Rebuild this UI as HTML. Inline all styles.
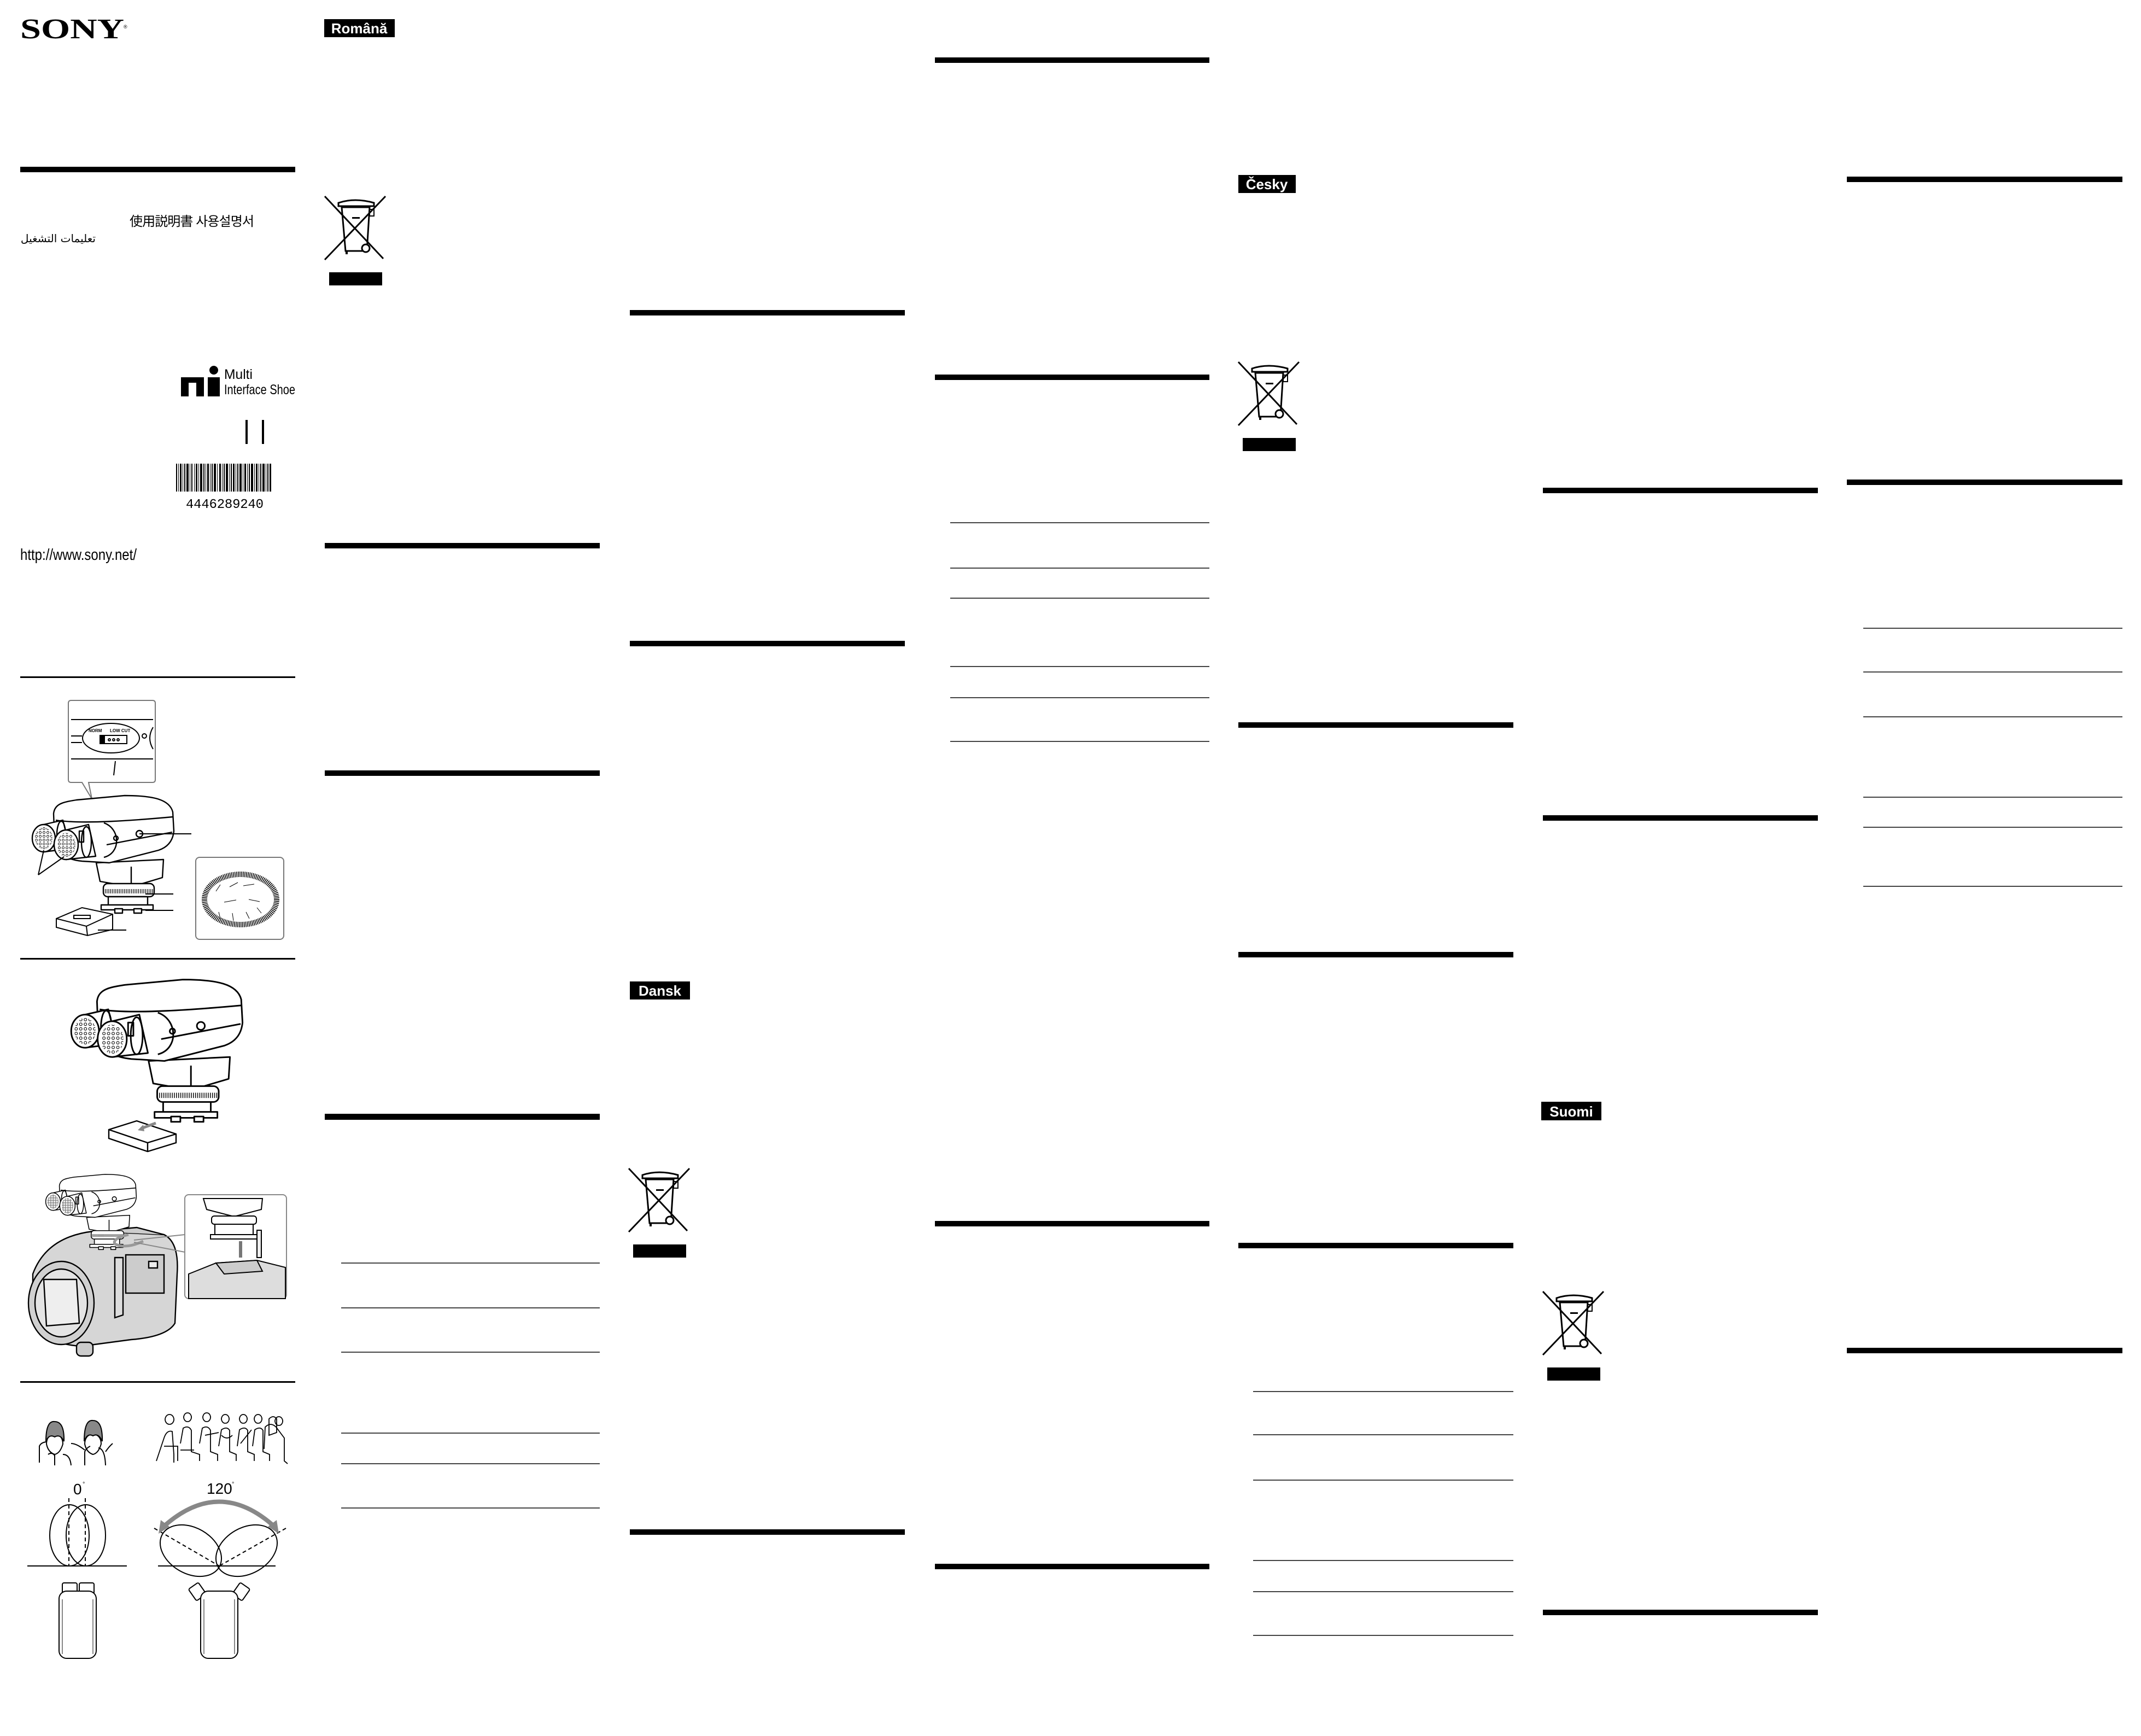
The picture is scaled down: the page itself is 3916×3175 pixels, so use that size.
<!DOCTYPE html>
<html><head><meta charset="utf-8"><style>
html,body{margin:0;padding:0;background:#fff}
body{width:3916px;height:3175px;position:relative;overflow:hidden}
svg{position:absolute;left:0;top:0}
.t{font-family:"Liberation Sans",sans-serif}
</style></head><body>
<svg width="3916" height="3175" viewBox="0 0 3916 3175" xmlns="http://www.w3.org/2000/svg">
<defs>
<pattern id="holes" width="7" height="7" patternUnits="userSpaceOnUse"><circle cx="3.5" cy="3.5" r="2" fill="none" stroke="#000" stroke-width="0.9"/></pattern>
<g id="bin">
 <line x1="0" y1="0" x2="107" y2="114" stroke="#000" stroke-width="3"/>
 <line x1="111" y1="0" x2="0" y2="116" stroke="#000" stroke-width="3"/>
 <path d="M25,12 Q55,2 90,12 L90,18 L25,18 Z" fill="none" stroke="#000" stroke-width="3"/>
 <polygon points="31,20 82,20 77,100 38,100" fill="none" stroke="#000" stroke-width="3"/>
 <rect x="38" y="100" width="4" height="6" fill="#000"/>
 <rect x="82" y="24" width="8" height="12" fill="none" stroke="#000" stroke-width="2"/>
 <rect x="50" y="38" width="14" height="3" fill="#000"/>
 <circle cx="75" cy="95" r="7" fill="#fff" stroke="#000" stroke-width="3"/>
 <rect x="8" y="139" width="97" height="24" fill="#000"/>
</g>
<g id="mic" stroke="#000" stroke-width="2.4" fill="#fff" stroke-linejoin="round">
 <path d="M176,1578 L299,1572 L297,1605 L240,1622 L183,1612 Z"/>
 <line x1="240" y1="1585" x2="240" y2="1620"/>
 <rect x="189" y="1616" width="93" height="24" rx="8"/>
 <line x1="192" y1="1630" x2="280" y2="1630" stroke-width="8" stroke-dasharray="1.2 2"/>
 <rect x="198" y="1640" width="72" height="18"/>
 <rect x="185" y="1655" width="95" height="9"/>
 <rect x="210" y="1662" width="14" height="8"/><rect x="245" y="1662" width="14" height="8"/>
 <path d="M98,1488 C100,1470 115,1467 140,1463 L228,1455 C280,1455 310,1462 316,1485 L318,1520 C316,1540 305,1550 290,1555 L200,1578 L150,1575 C120,1572 105,1560 100,1540 Z"/>
 <path d="M102,1500 C150,1508 250,1500 316,1494" fill="none"/>
 <path d="M195,1545 L315,1522" fill="none"/>
 <circle cx="255" cy="1525" r="6"/><circle cx="212" cy="1533" r="4"/>
 <path d="M190,1505 C220,1515 222,1560 190,1568" fill="none"/>
 <path d="M80,1508 L115,1500 L128,1552 L80,1558 Z"/>
 <ellipse cx="112" cy="1527" rx="8" ry="25" fill="none"/>
 <ellipse cx="80" cy="1533" rx="21" ry="25"/>
 <ellipse cx="80" cy="1533" rx="16" ry="20" fill="url(#holes)" stroke="none"/>
 <path d="M121,1518 L162,1508 L175,1566 L121,1572 Z"/>
 <ellipse cx="158" cy="1540" rx="9" ry="28" fill="none"/>
 <rect x="145" y="1520" width="8" height="20" fill="none"/>
 <ellipse cx="121" cy="1545" rx="22" ry="27"/>
 <ellipse cx="121" cy="1545" rx="17" ry="22" fill="url(#holes)" stroke="none"/>
</g>
</defs>

<!-- column 1 -->
<text x="37" y="70" font-family="Liberation Serif,serif" font-weight="bold" font-size="52" textLength="190" lengthAdjust="spacingAndGlyphs">SONY</text>
<text x="226" y="52" font-family="Liberation Sans,sans-serif" font-size="9">®</text>
<rect x="37" y="305" width="503" height="10" fill="#000"/>
<text x="237" y="413" font-family="Liberation Sans,'Noto Sans CJK JP','NanumGothic',sans-serif" font-size="24" textLength="228">使用説明書 사용설명서</text>
<text x="175" y="443" font-family="'DejaVu Sans',sans-serif" font-size="20" text-anchor="end">تعليمات التشغيل</text>
<rect x="331" y="690" width="42" height="35" fill="#000"/><rect x="345" y="700" width="14" height="25" fill="#fff"/>
<rect x="380" y="690" width="22" height="35" fill="#000"/><circle cx="391" cy="677" r="8" fill="#000"/>
<text x="410" y="693" font-family="Liberation Sans,sans-serif" font-size="25" textLength="52" lengthAdjust="spacingAndGlyphs">Multi</text>
<text x="410" y="721" font-family="Liberation Sans,sans-serif" font-size="25" textLength="130" lengthAdjust="spacingAndGlyphs">Interface Shoe</text>
<rect x="449" y="768" width="4" height="44" fill="#000"/><rect x="479" y="768" width="4" height="44" fill="#000"/>
<g fill="#000">
<rect x="322" y="848" width="2" height="51"/><rect x="326" y="848" width="1" height="51"/><rect x="329" y="848" width="3" height="51"/><rect x="334" y="848" width="1" height="51"/><rect x="337" y="848" width="2" height="51"/><rect x="341" y="848" width="4" height="51"/><rect x="347" y="848" width="1" height="51"/><rect x="350" y="848" width="2" height="51"/><rect x="355" y="848" width="1" height="51"/><rect x="358" y="848" width="3" height="51"/><rect x="363" y="848" width="1" height="51"/><rect x="366" y="848" width="4" height="51"/><rect x="372" y="848" width="2" height="51"/><rect x="376" y="848" width="1" height="51"/><rect x="379" y="848" width="3" height="51"/><rect x="384" y="848" width="1" height="51"/><rect x="387" y="848" width="2" height="51"/><rect x="391" y="848" width="4" height="51"/><rect x="397" y="848" width="1" height="51"/><rect x="401" y="848" width="3" height="51"/><rect x="406" y="848" width="1" height="51"/><rect x="409" y="848" width="2" height="51"/><rect x="413" y="848" width="4" height="51"/><rect x="419" y="848" width="1" height="51"/><rect x="422" y="848" width="2" height="51"/><rect x="426" y="848" width="3" height="51"/><rect x="431" y="848" width="1" height="51"/><rect x="434" y="848" width="2" height="51"/><rect x="438" y="848" width="4" height="51"/><rect x="444" y="848" width="1" height="51"/><rect x="447" y="848" width="3" height="51"/><rect x="452" y="848" width="1" height="51"/><rect x="455" y="848" width="2" height="51"/><rect x="459" y="848" width="4" height="51"/><rect x="465" y="848" width="1" height="51"/><rect x="468" y="848" width="3" height="51"/><rect x="473" y="848" width="1" height="51"/><rect x="476" y="848" width="2" height="51"/><rect x="480" y="848" width="4" height="51"/><rect x="486" y="848" width="1" height="51"/><rect x="489" y="848" width="2" height="51"/><rect x="493" y="848" width="3" height="51"/>
</g>
<text x="340" y="929" font-family="Liberation Mono,monospace" font-size="24" textLength="142">4446289240</text>
<text x="37" y="1024" font-family="Liberation Sans,sans-serif" font-size="29" textLength="213" lengthAdjust="spacingAndGlyphs">http://www.sony.net/</text>
<rect x="37" y="1237" width="503" height="3" fill="#000"/>
<rect x="37" y="1752" width="503" height="3" fill="#000"/>
<rect x="37" y="2526" width="503" height="3" fill="#000"/>

<!-- fig 1 -->
<g fill="none" stroke="#777" stroke-width="2">
 <path d="M130,1281 L279,1281 Q284,1281 284,1286 L284,1426 Q284,1431 279,1431 L162,1431 L168,1461 L150,1431 L130,1431 Q125,1431 125,1426 L125,1286 Q125,1281 130,1281 Z" fill="#fff"/>
</g>
<g fill="none" stroke="#000" stroke-width="2">
 <line x1="130" y1="1316" x2="280" y2="1316"/><line x1="130" y1="1388" x2="280" y2="1388"/>
 <line x1="130" y1="1346" x2="150" y2="1346"/><line x1="130" y1="1358" x2="150" y2="1358"/>
 <ellipse cx="203" cy="1350" rx="52" ry="27"/>
 <path d="M183,1345 L232,1345 L232,1360 L183,1360 Z"/><rect x="184" y="1346" width="7" height="14" fill="#000"/>
 <circle cx="200" cy="1353" r="2"/><circle cx="208" cy="1353" r="2"/><circle cx="216" cy="1353" r="2"/>
 <circle cx="264" cy="1346" r="4"/><path d="M280,1330 Q268,1350 280,1370"/>
 <line x1="211" y1="1392" x2="208" y2="1418"/>
</g>
<text x="162" y="1339" font-family="Liberation Sans,sans-serif" font-weight="bold" font-size="8">NORM</text>
<text x="201" y="1339" font-family="Liberation Sans,sans-serif" font-weight="bold" font-size="8">LOW CUT</text>
<use href="#mic"/>
<g stroke="#000" stroke-width="2">
 <path d="M103,1680 L150,1660 L206,1672 L206,1700 L160,1711 L103,1696 Z" fill="#fff"/>
 <path d="M103,1680 L158,1694 L206,1672 M158,1694 L160,1711" fill="none"/>
 <rect x="135" y="1674" width="30" height="6" fill="none"/>
 <line x1="255" y1="1525" x2="350" y2="1525"/><line x1="266" y1="1635" x2="317" y2="1635"/>
 <line x1="266" y1="1665" x2="317" y2="1665"/><line x1="179" y1="1701" x2="231" y2="1701"/>
 <line x1="70" y1="1600" x2="80" y2="1555"/><line x1="70" y1="1600" x2="117" y2="1567"/>
</g>
<rect x="358" y="1568" width="161" height="150" rx="7" fill="none" stroke="#777" stroke-width="2"/>
<ellipse cx="440" cy="1645" rx="66" ry="46" fill="none" stroke="#000" stroke-width="10" stroke-dasharray="1.5 1.5"/>
<g stroke="#000" stroke-width="1" fill="none"><path d="M395,1630 l8,-12 M420,1622 l15,-8 M445,1620 l20,-3 M410,1650 l22,-4 M455,1645 l20,4 M400,1668 l3,12 M425,1670 l2,14 M450,1668 l6,12 M470,1660 l8,10"/></g>

<!-- fig 2 -->
<g transform="translate(129,1794) scale(1.21) translate(-58,-1457)"><use href="#mic"/></g>
<g stroke="#000" stroke-width="2.4" fill="#fff">
 <path d="M199,2066 L250,2050 L322,2074 L322,2090 L270,2106 L199,2082 Z"/>
 <path d="M199,2066 L270,2090 L322,2074 M270,2090 L270,2106" fill="none"/>
</g>
<path d="M285,2054 L258,2064" stroke="#888" stroke-width="5"/><polygon points="252,2067 262,2057 264,2069" fill="#888"/>

<!-- fig 3 -->
<g stroke="#000" stroke-width="2.4">
 <path d="M60,2330 Q85,2262 170,2252 L300,2258 Q328,2272 324,2330 L320,2420 Q305,2445 240,2450 L150,2462 Q90,2460 60,2420 Z" fill="#d6d6d6"/>
 <path d="M170,2252 L250,2245 L300,2258" fill="#ccc"/>
 <ellipse cx="112" cy="2383" rx="60" ry="76" fill="#d0d0d0"/>
 <ellipse cx="112" cy="2383" rx="48" ry="62" fill="#e4e4e4"/>
 <path d="M80,2340 L140,2340 L145,2420 L85,2425 Z" fill="#eee"/>
 <rect x="230" y="2295" width="70" height="70" fill="#ccc"/>
 <rect x="272" y="2307" width="16" height="12" fill="#eee"/>
 <path d="M210,2300 L225,2300 L225,2405 L210,2410 Z" fill="#ddd"/>
 <rect x="140" y="2455" width="30" height="25" rx="8" fill="#ccc"/>
</g>
<g transform="translate(83,2149) scale(0.64) translate(-58,-1457)"><use href="#mic"/></g>
<path d="M235,2258 Q205,2265 210,2275 Q230,2285 262,2270" fill="none" stroke="#999" stroke-width="5"/>
<g fill="none" stroke="#888" stroke-width="2">
 <rect x="338" y="2185" width="186" height="190" rx="7" fill="#fff"/>
 <line x1="245" y1="2268" x2="338" y2="2258"/><line x1="245" y1="2272" x2="338" y2="2290"/>
</g>
<g stroke="#000" stroke-width="2" fill="#fff">
 <path d="M372,2192 L480,2192 L478,2212 L428,2225 L378,2212 Z"/>
 <rect x="387" y="2224" width="82" height="15" rx="5"/>
 <rect x="393" y="2239" width="70" height="22"/>
 <rect x="385" y="2258" width="86" height="8"/>
 <path d="M345,2330 L395,2310 L470,2305 L522,2318 L522,2375 L345,2375 Z" fill="#ddd"/>
 <path d="M395,2310 L470,2305 L480,2325 L410,2330 Z" fill="#ccc"/>
 <path d="M470,2250 L478,2250 L478,2300 L470,2300 Z" fill="#eee"/>
</g>
<path d="M440,2270 L440,2300" stroke="#777" stroke-width="6"/>

<!-- fig 4 -->
<g fill="none" stroke="#000" stroke-width="2">
 <path d="M85,2641 Q85,2625 100,2622 Q115,2625 115,2641 Q110,2658 100,2660 Q88,2656 85,2641 Z" fill="#fff"/>
 <path d="M84,2636 Q84,2598 100,2600 Q118,2600 117,2636 Q110,2622 100,2628 Q90,2622 84,2636" fill="#888"/>
 <path d="M72,2675 L72,2645 Q75,2638 85,2637 M100,2660 L100,2680 M115,2660 Q128,2660 130,2680 M88,2660 Q95,2655 100,2662"/>
 <path d="M155,2641 Q155,2625 170,2622 Q185,2625 185,2641 Q180,2658 170,2660 Q158,2656 155,2641 Z" fill="#fff"/>
 <path d="M154,2636 Q154,2596 170,2598 Q188,2598 187,2636 Q180,2620 170,2626 Q160,2620 154,2636" fill="#888"/>
 <path d="M155,2680 L155,2655 Q158,2648 165,2645 M180,2648 Q192,2650 193,2680 M155,2652 Q140,2640 130,2640 M193,2655 Q200,2645 206,2640"/>
</g>
<g fill="none" stroke="#000" stroke-width="1.8">
 <path d="M286,2672 L300,2630 Q305,2615 315,2618 L318,2660 L318,2675 M300,2645 L325,2645 L325,2672 M310,2605 a8,9 0 1,1 0.1,0"/>
 <path d="M330,2640 L335,2612 Q345,2606 350,2616 L350,2655 L365,2660 L365,2672 M330,2652 L355,2652 M343,2600 a7,8 0 1,1 0.1,0"/>
 <path d="M365,2640 L370,2612 Q380,2606 385,2616 L385,2655 L398,2660 L398,2672 M378,2600 a7,8 0 1,1 0.1,0 M375,2625 L400,2620"/>
 <path d="M400,2645 L405,2615 Q415,2608 420,2616 L420,2655 L432,2660 L432,2672 M412,2603 a7,8 0 1,1 0.1,0 M405,2625 q10,10 20,0"/>
 <path d="M434,2645 L438,2615 Q448,2608 453,2616 L453,2655 L465,2660 L465,2672 M445,2603 a7,8 0 1,1 0.1,0 M440,2640 l20,-25"/>
 <path d="M462,2645 L466,2615 Q476,2608 481,2616 L481,2655 L493,2660 L493,2672 M472,2603 a7,8 0 1,1 0.1,0"/>
 <path d="M483,2650 L485,2610 Q495,2600 505,2610 L520,2630 L520,2672 L526,2677 M492,2595 q8,-8 14,0 L506,2620 L492,2625 Z M510,2607 a7,8 0 1,1 0.1,0"/>
</g>
<text x="134" y="2733" class="t" font-size="28">0</text><text x="151" y="2718" class="t" font-size="11">°</text>
<text x="378" y="2732" class="t" font-size="28">120</text><text x="424" y="2718" class="t" font-size="11">°</text>
<g fill="none" stroke="#000" stroke-width="2">
 <ellipse cx="127" cy="2808" rx="36" ry="56"/><ellipse cx="157" cy="2808" rx="36" ry="56"/>
 <line x1="126" y1="2740" x2="126" y2="2864" stroke-dasharray="7 5"/><line x1="156" y1="2740" x2="156" y2="2864" stroke-dasharray="7 5"/>
 <line x1="50" y1="2864" x2="232" y2="2864"/><line x1="289" y1="2864" x2="504" y2="2864"/>
 <ellipse cx="349" cy="2836" rx="60" ry="42" transform="rotate(30 349 2836)"/>
 <ellipse cx="451" cy="2836" rx="60" ry="42" transform="rotate(-30 451 2836)"/>
 <line x1="282" y1="2795" x2="401" y2="2864" stroke-dasharray="7 5"/><line x1="523" y1="2795" x2="401" y2="2864" stroke-dasharray="7 5"/>
</g>
<path d="M298,2793 Q401,2700 503,2793" fill="none" stroke="#888" stroke-width="8"/>
<polygon points="290,2805 294,2780 310,2792" fill="#888"/><polygon points="510,2805 506,2780 490,2792" fill="#888"/>
<g fill="#fff" stroke="#000" stroke-width="2">
 <rect x="114" y="2895" width="27" height="20" rx="3"/><rect x="145" y="2895" width="27" height="20" rx="3"/>
 <rect x="108" y="2910" width="68" height="123" rx="14"/><line x1="114" y1="2925" x2="114" y2="3025" stroke="#888"/><line x1="170" y1="2925" x2="170" y2="3025" stroke="#888"/>
 <rect x="350" y="2898" width="22" height="26" rx="3" transform="rotate(-35 361 2911)"/>
 <rect x="430" y="2898" width="22" height="26" rx="3" transform="rotate(35 441 2911)"/>
 <rect x="367" y="2910" width="68" height="123" rx="14"/><line x1="373" y1="2925" x2="373" y2="3025" stroke="#888"/><line x1="429" y1="2925" x2="429" y2="3025" stroke="#888"/>
</g>

<!-- language tags -->
<rect x="593" y="35" width="129" height="33" fill="#000"/><text x="657" y="61" text-anchor="middle" class="t" font-weight="bold" font-size="26" fill="#fff">Română</text>
<rect x="1152" y="1795" width="110" height="33" fill="#000"/><text x="1207" y="1821" text-anchor="middle" class="t" font-weight="bold" font-size="26" fill="#fff">Dansk</text>
<rect x="2265" y="320" width="105" height="33" fill="#000"/><text x="2317" y="346" text-anchor="middle" class="t" font-weight="bold" font-size="26" fill="#fff">Česky</text>
<rect x="2819" y="2015" width="110" height="34" fill="#000"/><text x="2874" y="2042" text-anchor="middle" class="t" font-weight="bold" font-size="26" fill="#fff">Suomi</text>

<!-- bins -->
<use href="#bin" transform="translate(594,359)"/>
<use href="#bin" transform="translate(1150,2137)"/>
<use href="#bin" transform="translate(2265,662)"/>
<use href="#bin" transform="translate(2822,2362)"/>

<!-- thick rules -->
<g fill="#000">
<rect x="594" y="993" width="503" height="10"/><rect x="594" y="1409" width="503" height="10"/><rect x="594" y="2037" width="503" height="11"/>
<rect x="1152" y="567" width="503" height="10"/><rect x="1152" y="1172" width="503" height="10"/><rect x="1152" y="2797" width="503" height="10"/>
<rect x="1710" y="105" width="502" height="10"/><rect x="1710" y="685" width="502" height="10"/><rect x="1710" y="2233" width="502" height="10"/><rect x="1710" y="2860" width="502" height="10"/>
<rect x="2265" y="1321" width="503" height="10"/><rect x="2265" y="1741" width="503" height="10"/><rect x="2265" y="2273" width="503" height="10"/>
<rect x="2822" y="892" width="503" height="10"/><rect x="2822" y="1491" width="503" height="10"/><rect x="2822" y="2944" width="503" height="10"/>
<rect x="3378" y="323" width="504" height="10"/><rect x="3378" y="877" width="504" height="10"/><rect x="3378" y="2465" width="504" height="10"/>
</g>
<!-- thin rules -->
<g fill="#444">
<rect x="624" y="2309" width="473" height="2"/><rect x="624" y="2391" width="473" height="2"/><rect x="624" y="2472" width="473" height="2"/><rect x="624" y="2620" width="473" height="2"/><rect x="624" y="2676" width="473" height="2"/><rect x="624" y="2757" width="473" height="2"/>
<rect x="1738" y="955" width="474" height="2"/><rect x="1738" y="1038" width="474" height="2"/><rect x="1738" y="1093" width="474" height="2"/><rect x="1738" y="1218" width="474" height="2"/><rect x="1738" y="1275" width="474" height="2"/><rect x="1738" y="1355" width="474" height="2"/>
<rect x="2292" y="2544" width="476" height="2"/><rect x="2292" y="2623" width="476" height="2"/><rect x="2292" y="2706" width="476" height="2"/><rect x="2292" y="2853" width="476" height="2"/><rect x="2292" y="2910" width="476" height="2"/><rect x="2292" y="2990" width="476" height="2"/>
<rect x="3408" y="1148" width="474" height="2"/><rect x="3408" y="1228" width="474" height="2"/><rect x="3408" y="1310" width="474" height="2"/><rect x="3408" y="1457" width="474" height="2"/><rect x="3408" y="1512" width="474" height="2"/><rect x="3408" y="1620" width="474" height="2"/>
</g>
</svg>
</body></html>
